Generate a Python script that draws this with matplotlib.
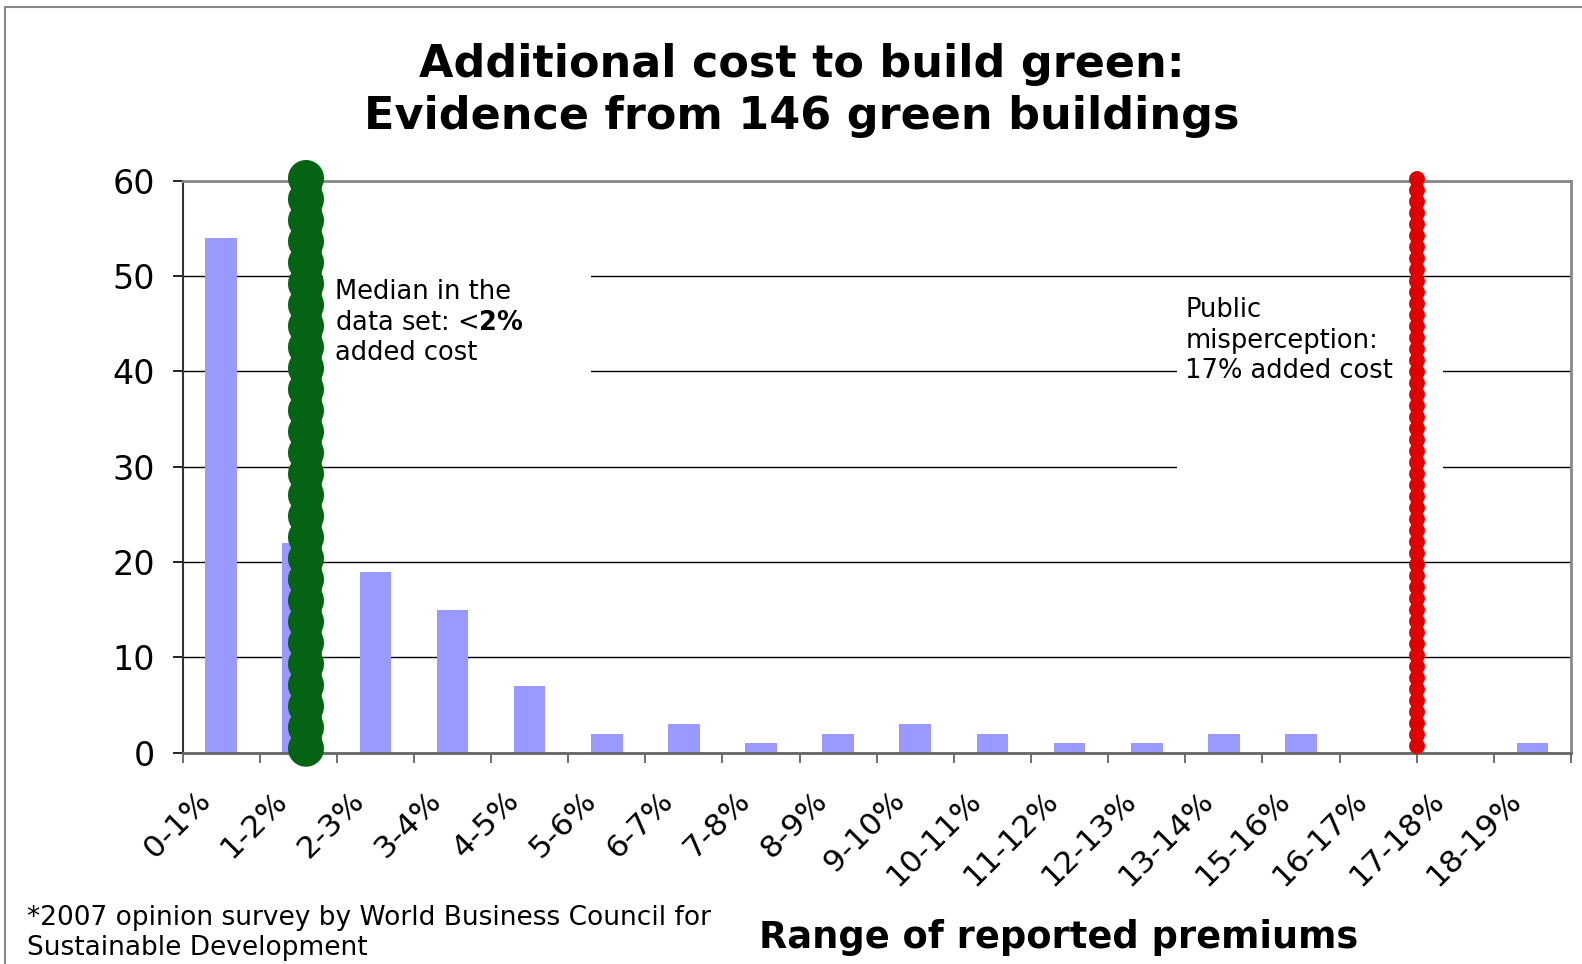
import numpy as np
import matplotlib.pyplot as plt
from matplotlib.patches import Rectangle

categories = ['0-1%', '1-2%', '2-3%', '3-4%', '4-5%', '5-6%', '6-7%', '7-8%', '8-9%',
              '9-10%', '10-11%', '11-12%', '12-13%', '13-14%', '15-16%', '16-17%',
              '17-18%', '18-19%']
counts = [54, 22, 19, 15, 7, 2, 3, 1, 2, 3, 2, 1, 1, 2, 2, 0, 0, 1]
yticks = [0, 10, 20, 30, 40, 50, 60]
median_x = 1.1        # "<2%" marker, in category units
misperception_x = 15.5  # 17% marker, between 16-17% and 17-18%

bar_color = '#9999FF'
green = '#046414'
red = '#E00000'

fig = plt.figure(figsize=(15.82, 9.64), dpi=100)
ax = fig.add_axes([0.1154, 0.2192, 0.8776, 0.5935])

x = np.arange(len(categories))
ax.bar(x, counts, width=0.41, color=bar_color, zorder=2)

ax.set_xlim(-0.5, len(categories) - 0.5)
ax.set_ylim(0, 60)
ax.set_yticks(yticks)
ax.yaxis.grid(True, color='black', linewidth=1.0, zorder=0)
ax.set_axisbelow(True)

# labels sit a little left of the category centre, like the Excel original
ax.set_xticks(x - 0.2)
ax.set_xticklabels(categories, rotation=45, ha='right', va='center',
                   rotation_mode='anchor', fontsize=22.5)
ax.set_xticks(np.arange(len(categories) + 1) - 0.5, minor=True)
ax.tick_params(axis='x', which='major', length=0, pad=31)
ax.tick_params(axis='x', which='minor', length=7, width=1.2, color='#555555', direction='out')
ax.tick_params(axis='y', length=7, width=1.2, color='black', pad=13, labelsize=24)

for s in ['top', 'right']:
    ax.spines[s].set_color('#888888')
    ax.spines[s].set_linewidth(2)
ax.spines['left'].set_color('#333333')
ax.spines['left'].set_linewidth(1.5)
ax.spines['bottom'].set_color('#666666')
ax.spines['bottom'].set_linewidth(2)

# white boxes behind the annotations
ax.add_patch(Rectangle((1.32, 38), 3.47, 13.5, facecolor='white', edgecolor='none', zorder=1.5))
ax.add_patch(Rectangle((12.39, 29.3), 3.45, 18.7, facecolor='white', edgecolor='none', zorder=1.5))

# dotted marker lines, drawn from the top down
ax.plot([median_x, median_x], [59.8, 0.2], color=green, linewidth=22,
        solid_capstyle='butt', zorder=4, clip_on=False)
ax.plot([median_x, median_x], [60.3, -0.3], color=green, linewidth=26,
        linestyle=(0, (0.01, 0.575)), dash_capstyle='round', zorder=4, clip_on=False)
ax.plot([misperception_x, misperception_x], [60.2, -0.2], color=red, linewidth=11.5,
        linestyle=(0, (0.01, 0.7)), dash_capstyle='round', zorder=4, clip_on=False)

ax.text(1.476, 48.36, 'Median in the', fontsize=18.5, va='center', zorder=3)
ax.text(1.476, 45.1, r'data set: <$\mathbf{2\%}$', fontsize=18.5, va='center', zorder=3)
ax.text(1.476, 41.92, 'added cost', fontsize=18.5, va='center', zorder=3)

ax.text(12.5, 46.45, 'Public', fontsize=18.5, va='center', zorder=3)
ax.text(12.5, 43.17, 'misperception:', fontsize=18.5, va='center', zorder=3)
ax.text(12.5, 40.0, '17% added cost', fontsize=18.5, va='center', zorder=3)

fig.text(0.507, 0.906, 'Additional cost to build green:\nEvidence from 146 green buildings',
         ha='center', va='center', fontsize=32, fontweight='bold', linespacing=1.25)
fig.text(0.669, 0.028, 'Range of reported premiums', ha='center', va='center',
         fontsize=26.5, fontweight='bold')
fig.text(0.017, 0.032, '*2007 opinion survey by World Business Council for\nSustainable Development',
         ha='left', va='center', fontsize=19, linespacing=1.22)

# outer frame
fig.patches.append(Rectangle((5 / 1582, -0.1), 1.2, 1.1 - 7 / 964, transform=fig.transFigure,
                             facecolor='none', edgecolor='#888888', linewidth=1.5))

fig.savefig('out.png', dpi=100)
